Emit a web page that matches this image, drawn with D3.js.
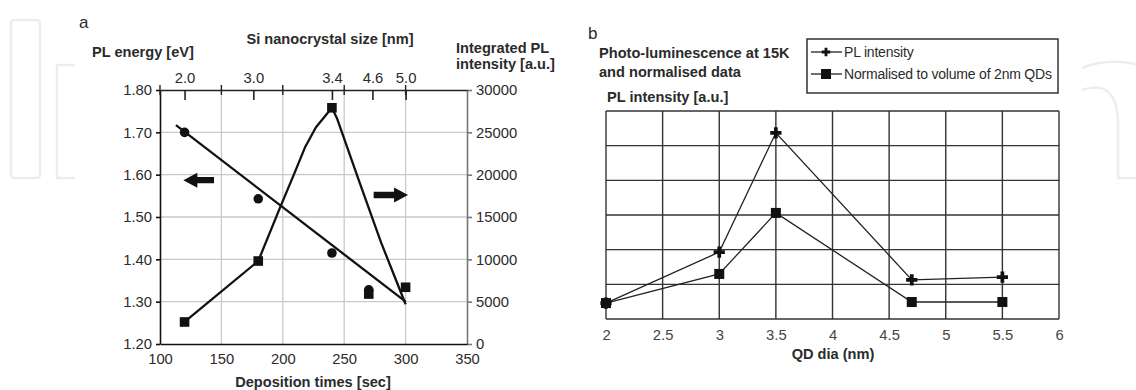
<!DOCTYPE html>
<html>
<head>
<meta charset="utf-8">
<script src="https://cdn.jsdelivr.net/npm/d3@7"></script>
<style>
  body { margin: 0; background: #fff; }
  svg { display: block; font-family: "Liberation Sans", Arial, sans-serif; }
</style>
</head>
<body>
<svg id="chart" width="1136" height="390"></svg>
<script>
// ---- panel a data ----
const depTicks = [100, 150, 200, 250, 300, 350];
const energyTicks = [1.2, 1.3, 1.4, 1.5, 1.6, 1.7, 1.8];
const intensityTicks = [0, 5000, 10000, 15000, 20000, 25000, 30000];
// top axis: nanocrystal size at given deposition time
const sizeAtDep = [120, 176, 240, 273, 300];
const sizeLabels = ["2.0", "3.0", "3.4", "4.6", "5.0"];

const energyPoints = [[120, 1.700], [180, 1.543], [240, 1.415], [270, 1.328]];
const energyFit = [[113, 1.717], [300, 1.300]];
const intensityPoints = [[120, 2600], [180, 9800], [240, 27900], [270, 5900], [300, 6700]];
const intensityCurve = [[120, 2600], [180, 9800], [198, 16200], [209, 20000], [218, 23200],
                        [227, 25600], [240, 27900], [244, 26700], [262, 19300],
                        [280, 12000], [300, 4700]];

// ---- panel b data ----
const qdTicks = [2, 2.5, 3, 3.5, 4, 4.5, 5, 5.5, 6];
const qdDia = [2, 3, 3.5, 4.7, 5.5];
const plIntensity = [0.46, 1.93, 5.37, 1.13, 1.21];
const normalised = [0.46, 1.30, 3.06, 0.49, 0.49];

const svg = d3.select("#chart");
const txt = "#2b2b2b";
const titleSize = 14.6;

// faint background watermark
const wm = svg.append("g").attr("fill", "none").attr("stroke", "#ededed").attr("stroke-width", 2.5);
wm.append("rect").attr("x", 11).attr("y", 20).attr("width", 29).attr("height", 158).attr("rx", 3);
wm.append("path").attr("d", "M75,65 H57 V178 H75");
wm.append("path").attr("d", "M1082,68 Q1105,58 1136,64");
wm.append("path").attr("d", "M1082,90 Q1118,78 1118,125 V178 H1136");

// ================= panel a =================
const x = d3.scaleLinear().domain([100, 350]).range([160, 467]);
const yL = d3.scaleLinear().domain([1.2, 1.8]).range([344, 90]);
const yR = d3.scaleLinear().domain([0, 30000]).range([344, 90]);

const a = svg.append("g");

// grid
a.append("g").selectAll("line").data(depTicks.slice(1, -1)).join("line")
  .attr("x1", d => x(d)).attr("x2", d => x(d)).attr("y1", 90).attr("y2", 344)
  .attr("stroke", "#c9c9c9").attr("stroke-width", 1.3);
a.append("g").selectAll("line").data(energyTicks.slice(1, -1)).join("line")
  .attr("x1", 160).attr("x2", 467).attr("y1", d => yL(d)).attr("y2", d => yL(d))
  .attr("stroke", "#c9c9c9").attr("stroke-width", 1.3);

function styleAxis(g, stroke, w) {
  g.select(".domain").attr("stroke", stroke).attr("stroke-width", w);
  g.selectAll(".tick line").attr("stroke", stroke).attr("stroke-width", w);
  g.selectAll("text").attr("fill", txt).attr("font-size", 14.8)
    .attr("font-family", "'Liberation Sans', Arial, sans-serif");
}

// right axis (gray)
a.append("g").attr("transform", "translate(467,0)")
  .call(d3.axisRight(yR).tickValues(intensityTicks).tickFormat(d3.format("d"))
    .tickSize(5).tickSizeOuter(0).tickPadding(4))
  .call(g => styleAxis(g, "#777", 1.6));

// left axis
a.append("g").attr("transform", "translate(160,0)")
  .call(d3.axisLeft(yL).tickValues(energyTicks).tickFormat(d3.format(".2f")).tickSize(4).tickSizeOuter(0).tickPadding(4))
  .call(g => styleAxis(g, "#111", 1.6));

// bottom axis
a.append("g").attr("transform", "translate(0,344)")
  .call(d3.axisBottom(x).tickValues(depTicks).tickSize(0).tickPadding(9))
  .call(g => styleAxis(g, "#111", 1.6));

// top axis: size labels, ticks pointing down into plot
a.append("g").attr("transform", "translate(0,90)")
  .call(d3.axisTop(x).tickValues(sizeAtDep).tickFormat((d, i) => sizeLabels[i])
    .tickSizeInner(-10).tickSizeOuter(0).tickPadding(7))
  .call(g => styleAxis(g, "#222", 1.6));
// small crossing ticks on top line at grid positions
a.append("g").selectAll("line").data(depTicks.slice(0, -1)).join("line")
  .attr("x1", d => x(d)).attr("x2", d => x(d)).attr("y1", 85).attr("y2", 95)
  .attr("stroke", "#222").attr("stroke-width", 1.4);

// fit line for PL energy
a.append("path").datum(energyFit)
  .attr("d", d3.line().x(d => x(d[0])).y(d => yL(d[1])))
  .attr("fill", "none").attr("stroke", "#111").attr("stroke-width", 2.3);

// intensity curve
a.append("path").datum(intensityCurve)
  .attr("d", d3.line().x(d => x(d[0])).y(d => yR(d[1])))
  .attr("fill", "none").attr("stroke", "#111").attr("stroke-width", 2.3)
  .attr("stroke-linejoin", "round");

// markers
a.append("g").selectAll("circle").data(energyPoints).join("circle")
  .attr("cx", d => x(d[0])).attr("cy", d => yL(d[1])).attr("r", 4.8).attr("fill", "#111");
a.append("g").selectAll("rect").data(intensityPoints).join("rect")
  .attr("x", d => x(d[0]) - 4.8).attr("y", d => yR(d[1]) - 4.8)
  .attr("width", 9.6).attr("height", 9.6).attr("fill", "#111");

// direction arrows
function arrow(x0, x1, yc, dir) {
  const head = 14, hh = 7.5, sh = 3.2;
  let p;
  if (dir < 0) {
    p = [[x0, yc], [x0 + head, yc - hh], [x0 + head, yc - sh], [x1, yc - sh], [x1, yc + sh], [x0 + head, yc + sh], [x0 + head, yc + hh]];
  } else {
    p = [[x1, yc], [x1 - head, yc - hh], [x1 - head, yc - sh], [x0, yc - sh], [x0, yc + sh], [x1 - head, yc + sh], [x1 - head, yc + hh]];
  }
  a.append("path").attr("d", d3.line()(p) + "Z").attr("fill", "#111");
}
arrow(x(119), x(144), yL(1.587), -1);
arrow(x(274), x(302), yR(17600), 1);

// labels
a.append("text").attr("x", 79).attr("y", 28).attr("font-size", 17).attr("fill", txt).text("a");
a.append("text").attr("x", 92).attr("y", 57).attr("font-size", titleSize).attr("font-weight", "bold").attr("fill", txt).text("PL energy [eV]");
a.append("text").attr("x", 330).attr("y", 44).attr("text-anchor", "middle").attr("font-size", titleSize).attr("font-weight", "bold").attr("fill", txt).text("Si nanocrystal size [nm]");
a.append("text").attr("x", 456).attr("y", 53).attr("font-size", titleSize).attr("font-weight", "bold").attr("fill", txt).text("Integrated PL");
a.append("text").attr("x", 456).attr("y", 69).attr("font-size", titleSize).attr("font-weight", "bold").attr("fill", txt).text("intensity [a.u.]");
a.append("text").attr("x", 313).attr("y", 387).attr("text-anchor", "middle").attr("font-size", titleSize).attr("font-weight", "bold").attr("fill", txt).text("Deposition times [sec]");

// ================= panel b =================
const xb = d3.scaleLinear().domain([2, 6]).range([606, 1059]);
const yb = d3.scaleLinear().domain([0, 6]).range([319, 111]);
const b = svg.append("g");
const gridCol = "#333";

b.append("g").selectAll("line").data(qdTicks).join("line")
  .attr("x1", d => xb(d)).attr("x2", d => xb(d)).attr("y1", 111).attr("y2", 319)
  .attr("stroke", gridCol).attr("stroke-width", 1.4);
b.append("g").selectAll("line").data(d3.range(0, 7)).join("line")
  .attr("x1", 606).attr("x2", 1059).attr("y1", d => yb(d)).attr("y2", d => yb(d))
  .attr("stroke", gridCol).attr("stroke-width", 1.4);

b.append("g").attr("transform", "translate(0,319)")
  .call(d3.axisBottom(xb).tickValues(qdTicks).tickFormat(d3.format("")).tickSize(0).tickPadding(10))
  .call(g => { g.select(".domain").remove(); styleAxis(g, gridCol, 1.4); g.selectAll("text").attr("fill", "#444"); });

const lineB = d3.line().x(d => xb(d[0])).y(d => yb(d[1]));
const plData = qdDia.map((q, i) => [q, plIntensity[i]]);
const normData = qdDia.map((q, i) => [q, normalised[i]]);

b.append("path").datum(plData).attr("d", lineB).attr("fill", "none").attr("stroke", "#222").attr("stroke-width", 1.3);
b.append("path").datum(normData).attr("d", lineB).attr("fill", "none").attr("stroke", "#222").attr("stroke-width", 1.3);

const plus = d3.symbol().type(d3.symbolCross).size(70);
b.append("g").selectAll("path").data(plData).join("path")
  .attr("transform", d => `translate(${xb(d[0])},${yb(d[1])})`)
  .attr("d", plus).attr("fill", "#111");
b.append("g").selectAll("rect").data(normData).join("rect")
  .attr("x", d => xb(d[0]) - 5).attr("y", d => yb(d[1]) - 5)
  .attr("width", 10).attr("height", 10).attr("fill", "#111");

// titles
b.append("text").attr("x", 588).attr("y", 39).attr("font-size", 17).attr("fill", txt).text("b");
b.append("text").attr("x", 599).attr("y", 58).attr("font-size", titleSize).attr("font-weight", "bold").attr("fill", txt).text("Photo-luminescence at 15K");
b.append("text").attr("x", 599).attr("y", 77).attr("font-size", titleSize).attr("font-weight", "bold").attr("fill", txt).text("and normalised data");
b.append("text").attr("x", 607).attr("y", 102).attr("font-size", titleSize).attr("font-weight", "bold").attr("fill", txt).text("PL intensity [a.u.]");
b.append("text").attr("x", 833).attr("y", 359).attr("text-anchor", "middle").attr("font-size", titleSize).attr("font-weight", "bold").attr("fill", txt).text("QD dia (nm)");

// legend
const lg = b.append("g");
lg.append("rect").attr("x", 807).attr("y", 39).attr("width", 251).attr("height", 54)
  .attr("fill", "#fff").attr("stroke", "#333").attr("stroke-width", 1.5);
const legendItems = [{ label: "PL intensity", mark: "plus" }, { label: "Normalised to volume of 2nm QDs", mark: "square" }];
legendItems.forEach((it, i) => {
  const yy = 52 + i * 22;
  lg.append("line").attr("x1", 811).attr("x2", 842).attr("y1", yy).attr("y2", yy).attr("stroke", "#222").attr("stroke-width", 1.3);
  if (it.mark === "plus") {
    lg.append("path").attr("transform", `translate(826,${yy})`).attr("d", d3.symbol().type(d3.symbolCross).size(40)).attr("fill", "#111");
  } else {
    lg.append("rect").attr("x", 821).attr("y", yy - 5).attr("width", 10).attr("height", 10).attr("fill", "#111");
  }
  lg.append("text").attr("x", 844).attr("y", yy + 5).attr("font-size", 14).attr("fill", txt)
    .attr("letter-spacing", -0.2).text(it.label);
});
</script>
</body>
</html>
